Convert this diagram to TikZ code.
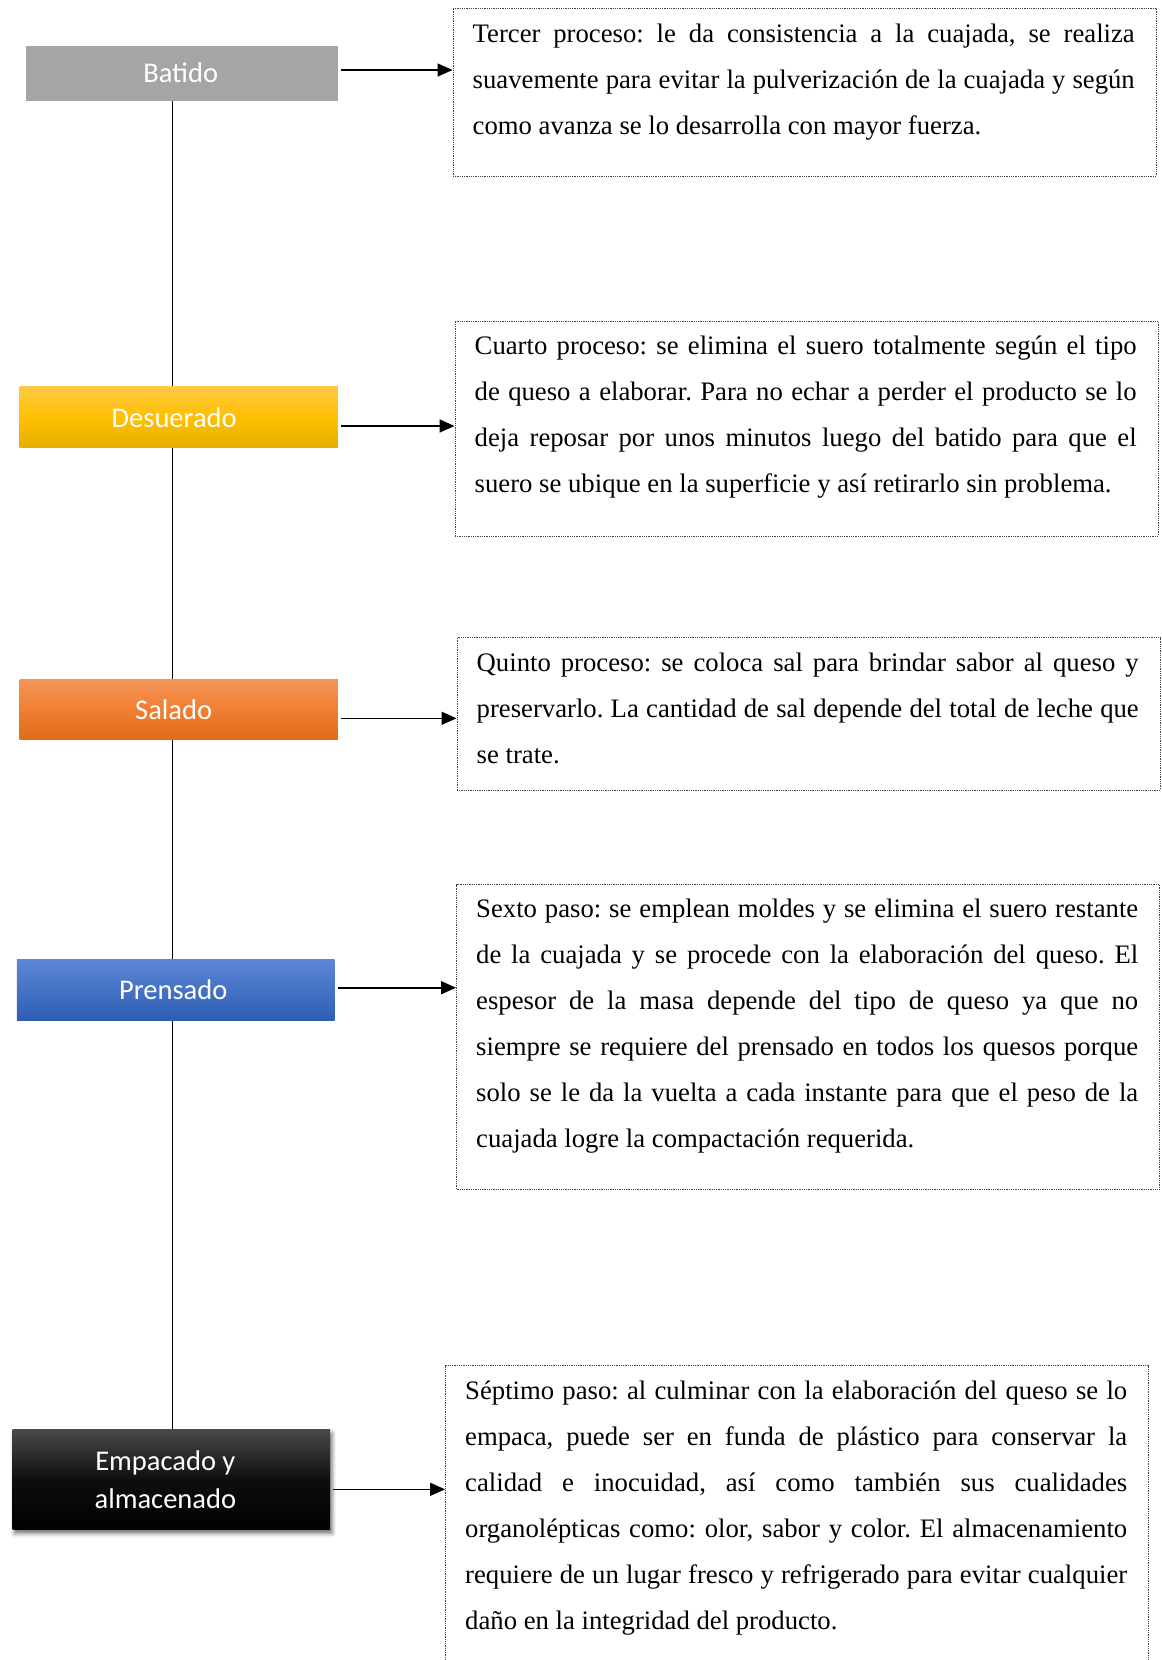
\documentclass[tikz,border=0pt]{standalone}
\usepackage{fontspec}
\setmainfont{Liberation Serif}
\newfontfamily\labelfont{Carlito}
\usetikzlibrary{arrows.meta,shadows.blur,backgrounds}

\definecolor{batgray}{HTML}{A5A5A5}
\definecolor{goldtop}{HTML}{FFC845}
\definecolor{goldmid}{HTML}{FFC000}
\definecolor{goldbot}{HTML}{E6AE00}
\definecolor{orangetop}{HTML}{F39558}
\definecolor{orangemid}{HTML}{F07F33}
\definecolor{orangebot}{HTML}{E26C18}
\definecolor{bluetop}{HTML}{5C87D4}
\definecolor{bluemid}{HTML}{4472C4}
\definecolor{bluebot}{HTML}{2E5DB5}
\definecolor{blacktop}{HTML}{4A4A4A}
\definecolor{blackmid}{HTML}{0E0E0E}

% justified paragraphs, no hyphenation
\newcommand\descsetup{\fontsize{26.7}{46}\selectfont\frenchspacing
  \hyphenpenalty=10000 \exhyphenpenalty=10000 \tolerance=10000
  \emergencystretch=0pt}
\newcommand\descspaces{\spaceskip=0.25em plus 0.6em minus 0.13em\relax}

\tikzset{
  stagebox/.style={anchor=north west, inner sep=0pt, text=white,
    font=\labelfont\fontsize{28.5}{38}\selectfont, align=center},
  descbox/.style={anchor=north west, inner sep=0pt, draw=gray!55!black,
    line width=1pt, dash pattern=on 1pt off 0.8pt, minimum width=703},
  desctext/.style={anchor=base west, inner sep=0pt, text width=662pt,
    align=justify, font=\descsetup, execute at begin node=\descspaces},
  link/.style={line width=1.6pt, -{Triangle[length=15pt,width=13pt]},
    shorten <=3pt},
  spineline/.style={line width=1.5pt},
}

\begin{document}
\begin{tikzpicture}[x=1pt,y=-1pt]
\useasboundingbox (0,0) rectangle (1162,1660);
\clip (0,0) rectangle (1162,1660);

% stages of the process
\node[stagebox, fill=batgray, minimum width=312.2, minimum height=55]
  (bat) at (25.4,45.5) {\hspace*{-2pt}Batido};
\node[stagebox, top color=goldtop, bottom color=goldbot, middle color=goldmid,
  minimum width=318.3, minimum height=61] (des) at (19.3,386.7)
  {\hspace*{-9pt}Desuerado};
\node[stagebox, top color=orangetop, bottom color=orangebot, middle color=orangemid,
  minimum width=318.3, minimum height=60.5] (sal) at (19.3,678.8)
  {\hspace*{-10pt}Salado};
\node[stagebox, top color=bluetop, bottom color=bluebot, middle color=bluemid,
  minimum width=317.6, minimum height=61] (pre) at (16.7,959.3)
  {\hspace*{-5pt}Prensado};
\node[stagebox, top color=blacktop, bottom color=black, middle color=blackmid,
  minimum width=317.7, minimum height=100.5,
  blur shadow={shadow xshift=2pt, shadow yshift=-4pt, shadow blur radius=4pt,
    shadow opacity=55}]
  (emp) at (12.3,1428.8) {\hspace*{-12pt}Empacado y\\\hspace*{-12pt}almacenado};

% description frames
\node[descbox, minimum height=168.2] (t1) at (452.5,7.5) {};
\node[descbox, minimum height=214.8] (t2) at (454.5,320.7) {};
\node[descbox, minimum height=152.5] (t3) at (456.5,637) {};
\node[descbox, minimum height=304.5] (t4) at (456,884) {};
\node[descbox, minimum height=340] (t5) at (445,1365) {};

% description texts
\node[desctext] (x1) at ([shift={(20,35)}]t1.north west) {%
Tercer proceso: le da consistencia a la cuajada, se realiza\linebreak
suavemente para evitar la pulverización de la cuajada y según\linebreak
como avanza se lo desarrolla con mayor fuerza.};

\node[desctext] (x2) at ([shift={(20,34)}]t2.north west) {%
Cuarto proceso: se elimina el suero totalmente según el tipo\linebreak
de queso a elaborar. Para no echar a perder el producto se lo\linebreak
deja reposar por unos minutos luego del batido para que el\linebreak
suero se ubique en la superficie y así retirarlo sin problema.};

\node[desctext] (x3) at ([shift={(20,34)}]t3.north west) {%
Quinto proceso: se coloca sal para brindar sabor al queso y\linebreak
preservarlo. La cantidad de sal depende del total de leche que\linebreak
se trate.};

\node[desctext] (x4) at ([shift={(20,33)}]t4.north west) {%
Sexto paso: se emplean moldes y se elimina el suero restante\linebreak
de la cuajada y se procede con la elaboración del queso. El\linebreak
espesor de la masa depende del tipo de queso ya que no\linebreak
siempre se requiere del prensado en todos los quesos porque\linebreak
solo se le da la vuelta a cada instante para que el peso de la\linebreak
cuajada logre la compactación requerida.};

\node[desctext] (x5) at ([shift={(20,34)}]t5.north west) {%
Séptimo paso: al culminar con la elaboración del queso se lo\linebreak
empaca, puede ser en funda de plástico para conservar la\linebreak
calidad e inocuidad, así como también sus cualidades\linebreak
organolépticas como: olor, sabor y color. El almacenamiento\linebreak
requiere de un lugar fresco y refrigerado para evitar cualquier\linebreak
daño en la integridad del producto.};

% the vertical spine joining the stages
\coordinate (spine) at (172.3,0);
\begin{pgfonlayer}{background}
\draw[spineline] (bat.south -| spine) -- (emp.north -| spine);
\end{pgfonlayer}

% arrows from each stage to its description
\coordinate (r1) at (0,70);
\coordinate (r2) at (0,426);
\coordinate (r3) at (0,718.3);
\coordinate (r4) at (0,987.7);
\coordinate (r5) at (0,1489.3);
\draw[link] (bat.east |- r1) -- (t1.west |- r1);
\draw[link] (des.east |- r2) -- (t2.west |- r2);
\draw[link] (sal.east |- r3) -- (t3.west |- r3);
\draw[link] (pre.east |- r4) -- (t4.west |- r4);
\draw[link] (emp.east |- r5) -- (t5.west |- r5);
\end{tikzpicture}
\end{document}
